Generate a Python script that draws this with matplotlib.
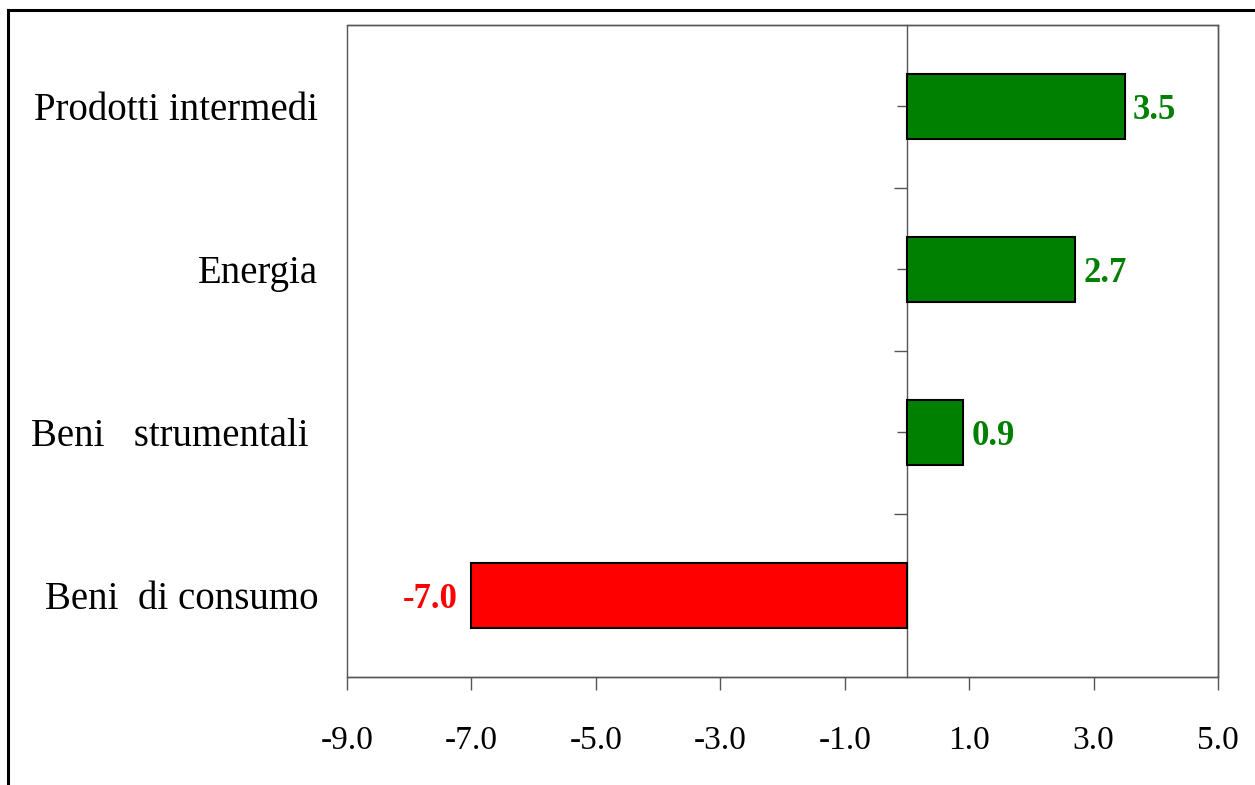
import matplotlib.pyplot as plt
from matplotlib.lines import Line2D
from matplotlib.patches import Rectangle
from matplotlib.ticker import FixedLocator

# === Data (top to bottom as in the chart)
categories = ["Beni  di consumo", "Beni   strumentali ", "Energia", "Prodotti intermedi"]
values = [-7.0, 0.9, 2.7, 3.5]
xticks = [-9.0, -7.0, -5.0, -3.0, -1.0, 1.0, 3.0, 5.0]

GREEN = "#008000"
RED = "#ff0000"
AXCOL = "#555555"

plt.rcParams["font.family"] = ["Liberation Serif", "DejaVu Serif"]

fig = plt.figure(figsize=(12.55, 7.85), dpi=100)
ax = fig.add_axes([0.2765, 0.1376, 0.694, 0.8306])

ypos = list(range(len(categories)))
colors = [RED if v < 0 else GREEN for v in values]
ax.barh(ypos, values, height=0.4, color=colors, edgecolor="black", linewidth=1.5, zorder=3)

ax.set_xlim(-9, 5)
ax.set_ylim(-0.5, len(categories) - 0.5)

# x axis
ax.set_xticks(xticks)
ax.set_xticklabels([f"{t:.1f}" for t in xticks], fontsize=24)
ax.tick_params(axis="x", direction="out", length=9, width=1, color=AXCOL, pad=26)

# y axis drawn on the zero line
ax.spines["left"].set_position(("data", 0))
ax.yaxis.set_major_locator(FixedLocator(ypos))
ax.yaxis.set_minor_locator(FixedLocator([y + 0.5 for y in ypos[:-1]]))
ax.tick_params(axis="y", which="major", direction="out", length=7, width=1, color=AXCOL, labelleft=False)
ax.tick_params(axis="y", which="minor", direction="out", length=9.5, width=1, color=AXCOL)

for s in ax.spines.values():
    s.set_color(AXCOL)
    s.set_linewidth(1)

# box left edge (left spine moved to zero)
ax.add_patch(Rectangle((0, 0), 1, 1, transform=ax.transAxes, fill=False,
                       edgecolor=AXCOL, linewidth=1, clip_on=False, zorder=1))

# category labels
for y, lab in zip(ypos, categories):
    ax.text(-0.033, y, lab, transform=ax.get_yaxis_transform(), ha="right",
            va="center_baseline", fontsize=28)

# value labels
for y, v, c in zip(ypos, values, colors):
    off = 6 if v >= 0 else -10
    ax.annotate(f"{v:.1f}", (v, y), xytext=(off, 0), textcoords="offset points",
                ha="left" if v >= 0 else "right", va="center_baseline",
                fontsize=25, fontweight="bold", color=c)

# outer frame (top and left edges)
fig.add_artist(Line2D([0.0065, 1.0], [0.9875, 0.9875], color="black", linewidth=2.2))
fig.add_artist(Line2D([0.0065, 0.0065], [0.0, 0.9875], color="black", linewidth=2.2))

fig.savefig("out.png", dpi=100)
